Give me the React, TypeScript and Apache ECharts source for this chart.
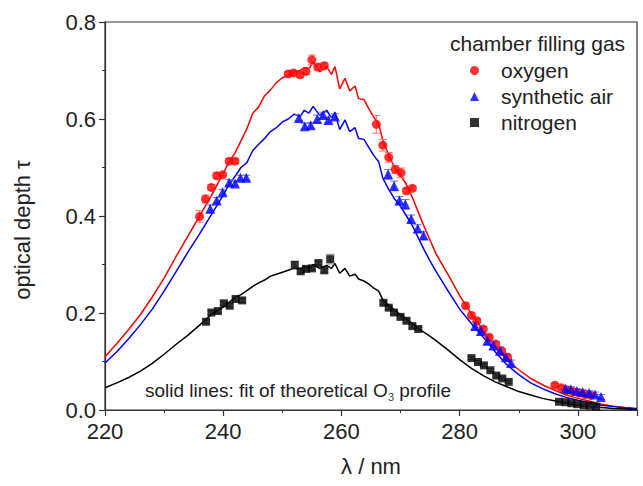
import React, { useEffect, useRef } from "react";
import * as echarts from "echarts";

const FONT = "'Liberation Sans', Arial, sans-serif";

// Shared wavelength grid of the fitted theoretical O3 profiles (nm)
const fitLambda = [
  220, 222, 224, 226, 228, 230, 232, 234, 236, 238, 240, 241, 242, 243, 244, 245, 246, 247, 248, 249,
  250, 251, 252, 253, 253.7, 254.5, 255.2, 256.3, 257.5, 258.3, 258.9, 259.7, 260.6, 261.4, 262.3, 262.9,
  263.8, 264.6, 265.4, 266.3, 267, 268, 269, 270, 271, 272, 273, 274, 275, 276, 278, 280, 282, 284, 286,
  288, 290, 292, 294, 296, 298, 300, 302, 304, 306, 308, 310,
];
const fitOxygen = [
  0.110, 0.137, 0.166, 0.197, 0.233, 0.272, 0.316, 0.358, 0.400, 0.442, 0.488, 0.512, 0.530, 0.555, 0.580, 0.612, 0.625, 0.648, 0.660, 0.675,
  0.685, 0.690, 0.697, 0.700, 0.706, 0.703, 0.718, 0.697, 0.708, 0.692, 0.708, 0.662, 0.684, 0.658, 0.668, 0.642,
  0.640, 0.622, 0.605, 0.590, 0.556, 0.525, 0.500, 0.484, 0.465, 0.438, 0.408, 0.378, 0.350, 0.322, 0.280, 0.236, 0.198, 0.164, 0.132,
  0.102, 0.083, 0.065, 0.052, 0.041, 0.031, 0.024, 0.018, 0.012, 0.008, 0.005, 0.003,
];
const fitAir = [
  0.097, 0.120, 0.147, 0.176, 0.208, 0.245, 0.285, 0.325, 0.363, 0.403, 0.443, 0.465, 0.482, 0.500, 0.510, 0.535, 0.548, 0.560, 0.574, 0.582,
  0.594, 0.600, 0.610, 0.605, 0.618, 0.612, 0.626, 0.608, 0.618, 0.603, 0.614, 0.578, 0.598, 0.574, 0.582, 0.560,
  0.558, 0.542, 0.526, 0.512, 0.478, 0.455, 0.435, 0.420, 0.400, 0.380, 0.355, 0.330, 0.307, 0.286, 0.246, 0.208, 0.178, 0.150, 0.120,
  0.093, 0.073, 0.056, 0.044, 0.034, 0.026, 0.020, 0.015, 0.010, 0.007, 0.004, 0.002,
];
const fitNitrogen = [
  0.046, 0.056, 0.067, 0.080, 0.096, 0.115, 0.135, 0.154, 0.175, 0.197, 0.212, 0.222, 0.232, 0.238, 0.246, 0.255, 0.262, 0.268, 0.276, 0.280,
  0.284, 0.288, 0.292, 0.290, 0.296, 0.292, 0.300, 0.292, 0.298, 0.292, 0.302, 0.282, 0.292, 0.276, 0.280, 0.270,
  0.266, 0.260, 0.252, 0.245, 0.227, 0.216, 0.206, 0.196, 0.188, 0.178, 0.168, 0.160, 0.152, 0.143, 0.124, 0.104, 0.086, 0.071, 0.058,
  0.048, 0.038, 0.031, 0.024, 0.019, 0.014, 0.010, 0.007, 0.005, 0.003, 0.002, 0.001,
];

// Measured points: oxygen
const oxLambda = [236.0, 237.0, 238.0, 238.9, 239.9, 241.0, 242.0, 251.0, 251.9, 253.0, 254.0, 255.0, 256.0, 257.1,
  265.9, 267.0, 268.0, 269.1, 270.1, 271.0, 272.0, 281.0, 282.0, 282.9, 284.0, 285.0, 286.1, 287.1, 288.1,
  296.1, 297.2, 298.2, 299.2, 300.2, 301.2, 302.2];
const oxTau = [0.399, 0.435, 0.459, 0.483, 0.485, 0.513, 0.513, 0.693, 0.695, 0.691, 0.698, 0.722, 0.707, 0.710,
  0.589, 0.546, 0.521, 0.496, 0.489, 0.452, 0.457, 0.215, 0.195, 0.184, 0.167, 0.150, 0.136, 0.122, 0.109,
  0.051, 0.046, 0.041, 0.038, 0.035, 0.032, 0.030];
const oxErr = [0.012, 0.008, 0.006, 0.006, 0.005, 0.005, 0.005, 0.005, 0.005, 0.005, 0.006, 0.010, 0.006, 0.006,
  0.018, 0.012, 0.010, 0.008, 0.010, 0.006, 0.005, 0.006, 0.005, 0.005, 0.005, 0.005, 0.005, 0.005, 0.005,
  0.004, 0.004, 0.004, 0.004, 0.004, 0.004, 0.004];

// Measured points: synthetic air
const airLambda = [237.8, 238.9, 239.9, 241.0, 242.0, 242.9, 243.9, 252.8, 253.8, 254.8, 255.9, 256.9, 257.8, 258.9,
  267.9, 268.9, 269.8, 270.8, 271.8, 272.9, 273.9, 282.6, 283.6, 284.7, 285.7, 286.8, 287.8, 288.7,
  297.9, 298.8, 299.8, 300.8, 301.9, 302.9, 303.9];
const airTau = [0.415, 0.432, 0.449, 0.469, 0.467, 0.479, 0.479, 0.602, 0.585, 0.587, 0.600, 0.608, 0.598, 0.605,
  0.486, 0.462, 0.432, 0.424, 0.394, 0.374, 0.360, 0.173, 0.163, 0.143, 0.133, 0.122, 0.109, 0.097,
  0.044, 0.043, 0.039, 0.037, 0.035, 0.032, 0.027];
const airErr = [0.008, 0.006, 0.006, 0.006, 0.005, 0.005, 0.005, 0.006, 0.006, 0.006, 0.008, 0.006, 0.006, 0.006,
  0.010, 0.010, 0.008, 0.010, 0.008, 0.008, 0.008, 0.008, 0.008, 0.008, 0.008, 0.008, 0.008, 0.006,
  0.005, 0.005, 0.005, 0.005, 0.005, 0.005, 0.005];

// Measured points: nitrogen
const n2Lambda = [237.1, 238.0, 239.1, 240.1, 241.1, 242.1, 243.2, 252.1, 253.1, 254.0, 255.0, 256.1, 257.1, 258.1,
  267.1, 268.0, 268.9, 270.0, 271.0, 272.0, 273.0, 282.0, 283.1, 284.1, 285.2, 286.2, 287.2, 288.3,
  296.8, 297.9, 298.9, 299.9, 301.0, 302.0, 303.1];
const n2Tau = [0.182, 0.201, 0.204, 0.220, 0.215, 0.229, 0.226, 0.299, 0.286, 0.291, 0.292, 0.303, 0.288, 0.311,
  0.221, 0.211, 0.201, 0.192, 0.184, 0.173, 0.167, 0.107, 0.099, 0.092, 0.082, 0.071, 0.065, 0.058,
  0.017, 0.016, 0.014, 0.012, 0.010, 0.009, 0.007];
const n2Err = [0.004, 0.004, 0.004, 0.004, 0.004, 0.004, 0.004, 0.008, 0.004, 0.004, 0.004, 0.004, 0.004, 0.010,
  0.004, 0.004, 0.004, 0.004, 0.004, 0.004, 0.004, 0.003, 0.003, 0.003, 0.003, 0.003, 0.003, 0.003,
  0.002, 0.002, 0.002, 0.002, 0.002, 0.002, 0.002];

const xTicks = { min: 220, max: 310, interval: 20 };
const yTicks = { min: 0, max: 0.8, interval: 0.2 };

const zip = (xs: number[], ys: number[]) => xs.map((x, i) => [x, ys[i]]);
const zip3 = (xs: number[], ys: number[], es: number[]) => xs.map((x, i) => [x, ys[i], es[i]]);

function errorSeries(name: string, data: number[][], color: string) {
  return {
    type: "custom",
    name: name + " err",
    data,
    z: 3,
    silent: true,
    renderItem: (params: any, api: any) => {
      const x = api.value(0);
      const y = api.value(1);
      const e = api.value(2);
      const top = api.coord([x, y + e]);
      const bot = api.coord([x, y - e]);
      const hw = 4;
      const style = { stroke: color, lineWidth: 1 };
      return {
        type: "group",
        children: [
          { type: "line", shape: { x1: top[0], y1: top[1], x2: bot[0], y2: bot[1] }, style },
          { type: "line", shape: { x1: top[0] - hw, y1: top[1], x2: top[0] + hw, y2: top[1] }, style },
          { type: "line", shape: { x1: bot[0] - hw, y1: bot[1], x2: bot[0] + hw, y2: bot[1] }, style },
        ],
      };
    },
  };
}

export default function App() {
  const ref = useRef<HTMLDivElement>(null);
  useEffect(() => {
    if (!ref.current) return;
    const chart = echarts.init(ref.current, undefined, { renderer: "svg" });
    const axisText = { color: "#222", fontFamily: FONT, fontSize: 22 };
    chart.setOption({
      animation: false,
      backgroundColor: "#fff",
      grid: { left: 105, right: 6, top: 22, bottom: 76, show: true, borderColor: "#333", borderWidth: 1.2 },
      xAxis: {
        type: "value",
        min: xTicks.min,
        max: xTicks.max,
        interval: xTicks.interval,
        name: "λ / nm",
        nameLocation: "middle",
        nameGap: 45,
        nameTextStyle: { ...axisText },
        axisLine: { show: true, lineStyle: { color: "#333", width: 1.2 } },
        axisTick: { show: true, inside: false, length: 6, lineStyle: { color: "#333", width: 1.2 } },
        minorTick: { show: true, splitNumber: 2, length: 3, lineStyle: { color: "#333", width: 1 } },
        axisLabel: { ...axisText, margin: 10, showMaxLabel: false },
        splitLine: { show: false },
      },
      yAxis: {
        type: "value",
        min: yTicks.min,
        max: yTicks.max,
        interval: yTicks.interval,
        axisLine: { show: true, lineStyle: { color: "#333", width: 1.2 } },
        axisTick: { show: true, inside: false, length: 6, lineStyle: { color: "#333", width: 1.2 } },
        minorTick: { show: true, splitNumber: 2, length: 3, lineStyle: { color: "#333", width: 1 } },
        axisLabel: { ...axisText, margin: 9, formatter: (v: number) => v.toFixed(1) },
        splitLine: { show: false },
      },
      legend: {
        orient: "vertical",
        left: 465,
        top: 55,
        itemWidth: 9,
        itemHeight: 9,
        itemGap: 5,
        data: ["oxygen", "synthetic air", "nitrogen"],
        textStyle: { color: "#222", fontFamily: FONT, fontSize: 21, padding: [0, 0, 0, 17] },
      },
      graphic: [
        {
          type: "text",
          x: 22,
          y: 230,
          rotation: Math.PI / 2,
          style: { text: "optical depth τ", fill: "#222", font: `22px ${FONT}`, align: "center", verticalAlign: "middle" },
        },
        {
          type: "text",
          left: 450,
          top: 33,
          style: { text: "chamber filling gas", fill: "#222", font: `21px ${FONT}` },
        },
        {
          type: "text",
          left: 145,
          top: 381,
          style: {
            text: "solid lines: fit of theoretical O{sub|3} profile",
            fill: "#222",
            font: `19px ${FONT}`,
            rich: { sub: { fontSize: 11, verticalAlign: "bottom", padding: [12, 0, 0, 0], fill: "#444", fontFamily: FONT } },
          },
        },
      ],
      series: [
        { type: "line", name: "fit oxygen", data: zip(fitLambda, fitOxygen), showSymbol: false, lineStyle: { color: "#ff0000", width: 1.5 }, z: 2, silent: true },
        { type: "line", name: "fit air", data: zip(fitLambda, fitAir), showSymbol: false, lineStyle: { color: "#0000ff", width: 1.5 }, z: 2, silent: true },
        { type: "line", name: "fit nitrogen", data: zip(fitLambda, fitNitrogen), showSymbol: false, lineStyle: { color: "#000", width: 1.5 }, z: 2, silent: true },
        errorSeries("oxygen", zip3(oxLambda, oxTau, oxErr), "#ff7070"),
        errorSeries("synthetic air", zip3(airLambda, airTau, airErr), "#7070ff"),
        errorSeries("nitrogen", zip3(n2Lambda, n2Tau, n2Err), "#888"),
        { type: "scatter", name: "oxygen", data: zip(oxLambda, oxTau), symbol: "circle", symbolSize: 9, itemStyle: { color: "#ff0000" }, z: 4 },
        { type: "scatter", name: "synthetic air", data: zip(airLambda, airTau), symbol: "triangle", symbolSize: 10, itemStyle: { color: "#0000ff" }, z: 4 },
        { type: "scatter", name: "nitrogen", data: zip(n2Lambda, n2Tau), symbol: "rect", symbolSize: 8, itemStyle: { color: "#000" }, z: 4 },
      ],
    });
    return () => chart.dispose();
  }, []);
  return <div ref={ref} style={{ width: 643, height: 486, position: "absolute", left: 0, top: 0 }} />;
}
